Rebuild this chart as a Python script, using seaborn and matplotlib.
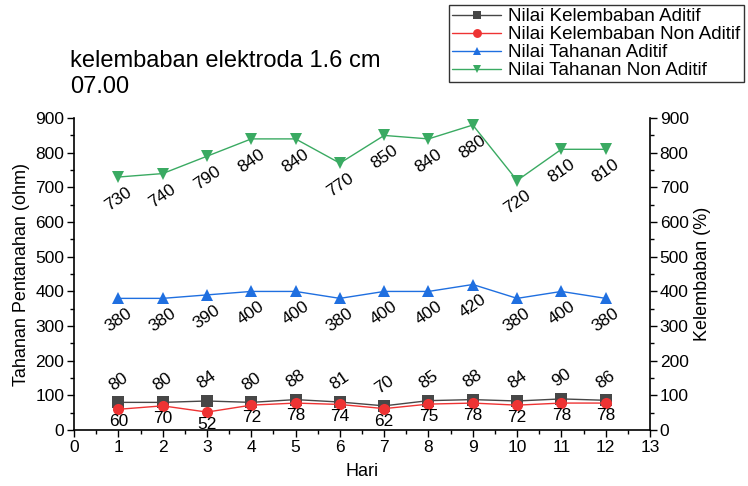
import matplotlib
matplotlib.use("Agg")
import matplotlib.pyplot as plt
from matplotlib.ticker import MultipleLocator
import seaborn as sns
import pandas as pd

hari = [1, 2, 3, 4, 5, 6, 7, 8, 9, 10, 11, 12]
kelembaban_aditif = [80, 80, 84, 80, 88, 81, 70, 85, 88, 84, 90, 86]
kelembaban_non_aditif = [60, 70, 52, 72, 78, 74, 62, 75, 78, 72, 78, 78]
tahanan_aditif = [380, 380, 390, 400, 400, 380, 400, 400, 420, 380, 400, 380]
tahanan_non_aditif = [730, 740, 790, 840, 840, 770, 850, 840, 880, 720, 810, 810]

series_names = ["Nilai Kelembaban Aditif", "Nilai Kelembaban Non Aditif",
                "Nilai Tahanan Aditif", "Nilai Tahanan Non Aditif"]
series_values = [kelembaban_aditif, kelembaban_non_aditif, tahanan_aditif, tahanan_non_aditif]

sns.set_style("ticks")
plt.rcParams["font.family"] = ["Liberation Sans", "DejaVu Sans"]
plt.rcParams["text.color"] = "black"
plt.rcParams["axes.labelcolor"] = "black"
plt.rcParams["xtick.color"] = "black"
plt.rcParams["ytick.color"] = "black"

df = pd.DataFrame({
    "Hari": hari * 4,
    "Nilai": sum(series_values, []),
    "Seri": sum([[n] * len(hari) for n in series_names], []),
})

colors = ["#474747", "#ee3333", "#1f6fe0", "#3aaa62"]
markers = ["s", "o", "^", "v"]

fig = plt.figure(figsize=(7.48, 4.86), dpi=100)
ax = fig.add_axes([0.099, 0.115, 0.77, 0.642])

sns.lineplot(data=df, x="Hari", y="Nilai", hue="Seri", style="Seri",
             palette=colors, markers=markers, dashes=False,
             markersize=8, linewidth=1, markeredgewidth=0, ax=ax, legend=True)

LBL = 12.5
# value labels
for x, v in zip(hari, kelembaban_aditif):
    ax.annotate(str(v), (x, v), xytext=(0, 21), textcoords="offset pixels",
                ha="center", va="center", rotation=35, fontsize=LBL)
for x, v in zip(hari, kelembaban_non_aditif):
    ax.annotate(str(v), (x, v), xytext=(0, -5), textcoords="offset pixels",
                ha="center", va="top", fontsize=LBL)
for x, v in zip(hari, tahanan_aditif):
    ax.annotate(str(v), (x, v), xytext=(0, -22), textcoords="offset pixels",
                ha="center", va="center", rotation=35, fontsize=LBL)
for x, v in zip(hari, tahanan_non_aditif):
    ax.annotate(str(v), (x, v), xytext=(0, -22), textcoords="offset pixels",
                ha="center", va="center", rotation=35, fontsize=LBL)

ax.set_xlim(0, 13)
ax.set_ylim(0, 900)
ax.xaxis.set_major_locator(MultipleLocator(1))
ax.xaxis.set_minor_locator(MultipleLocator(0.5))
ax.yaxis.set_major_locator(MultipleLocator(100))
ax.yaxis.set_minor_locator(MultipleLocator(50))
ax.set_xlabel("Hari", fontsize=13, labelpad=6)
ax.set_ylabel("Tahanan Pentanahan (ohm)", fontsize=13, labelpad=4)
ax.tick_params(axis="both", labelsize=12.5, direction="out", length=5, width=1,
               colors="black", pad=2)
ax.tick_params(which="minor", length=3, width=1)
for s in ["left", "bottom"]:
    ax.spines[s].set_color("black")
    ax.spines[s].set_linewidth(1.2)
ax.spines["top"].set_visible(False)
ax.spines["right"].set_visible(False)

ax2 = ax.twinx()
ax2.set_ylim(0, 900)
ax2.yaxis.set_major_locator(MultipleLocator(100))
ax2.yaxis.set_minor_locator(MultipleLocator(50))
ax2.set_ylabel("Kelembaban (%)", fontsize=13, labelpad=4)
ax2.tick_params(axis="y", labelsize=12.5, direction="out", length=5, width=1, pad=2,
                colors="black")
ax2.tick_params(which="minor", length=3, width=1)
for s in ["top", "left", "bottom"]:
    ax2.spines[s].set_visible(False)
ax2.spines["right"].set_color("black")
ax2.spines["right"].set_linewidth(1.2)

handles, labels = ax.get_legend_handles_labels()
ax.get_legend().remove()
leg = fig.legend(handles, labels, loc="upper right", bbox_to_anchor=(0.999, 0.997),
                 fontsize=13.5, frameon=True, fancybox=False, edgecolor="black",
                 borderpad=0.15, labelspacing=0.05, handlelength=2.6, handletextpad=0.4,
                 markerscale=0.8, borderaxespad=0.2)
leg.get_frame().set_linewidth(1)

fig.text(0.094, 0.875, "kelembaban elektroda 1.6 cm", fontsize=17, va="center")
fig.text(0.094, 0.82, "07.00", fontsize=17, va="center")

fig.savefig("out.png", dpi=100)
